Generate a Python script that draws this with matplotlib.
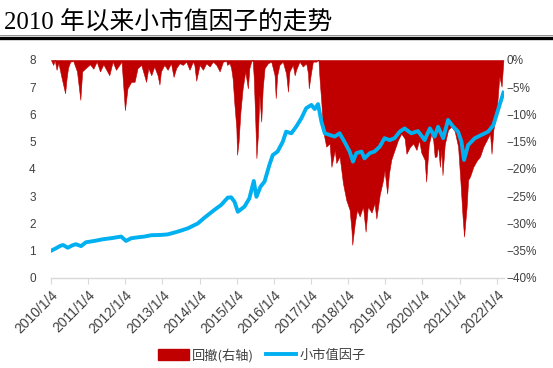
import matplotlib
matplotlib.use("Agg")
import matplotlib.pyplot as plt
from matplotlib.patches import Patch
from matplotlib.lines import Line2D

# -----------------------------
# Data
# -----------------------------
# small-cap factor net value, x in decimal years
line_t = [2010.00, 2010.12, 2010.25, 2010.33, 2010.45, 2010.58, 2010.67, 2010.81, 2010.94,
          2011.17, 2011.39, 2011.62, 2011.89, 2012.02, 2012.16, 2012.38, 2012.51, 2012.70,
          2012.96, 2013.14, 2013.41, 2013.68, 2013.95, 2014.13, 2014.40, 2014.58, 2014.76,
          2014.85, 2014.94, 2015.03, 2015.21, 2015.34, 2015.46, 2015.53, 2015.64, 2015.75,
          2015.88, 2015.97, 2016.10, 2016.24, 2016.33, 2016.47, 2016.60, 2016.74, 2016.87,
          2017.01, 2017.10, 2017.19, 2017.28, 2017.37, 2017.50, 2017.64, 2017.77, 2017.90,
          2018.04, 2018.13, 2018.22, 2018.36, 2018.44, 2018.58, 2018.71, 2018.85, 2018.98,
          2019.12, 2019.25, 2019.39, 2019.52, 2019.70, 2019.88, 2020.06, 2020.20, 2020.33,
          2020.42, 2020.56, 2020.69, 2020.83, 2020.96, 2021.05, 2021.12, 2021.23, 2021.41,
          2021.59, 2021.77, 2021.91, 2022.05, 2022.18]
line_v = [1.00, 1.08, 1.18, 1.21, 1.11, 1.20, 1.24, 1.17, 1.31,
          1.36, 1.42, 1.46, 1.52, 1.36, 1.46, 1.50, 1.52, 1.57,
          1.58, 1.60, 1.70, 1.82, 2.00, 2.21, 2.50, 2.68, 2.95,
          2.96, 2.80, 2.43, 2.62, 2.92, 3.56, 2.98, 3.35, 3.54,
          4.15, 4.51, 4.64, 5.00, 5.37, 5.31, 5.55, 5.86, 6.23,
          6.35, 6.20, 6.38, 5.74, 5.31, 5.25, 5.19, 5.31, 5.00,
          4.64, 4.27, 4.58, 4.64, 4.39, 4.58, 4.64, 4.82, 5.13,
          5.06, 5.13, 5.37, 5.49, 5.31, 5.39, 5.06, 5.49, 5.19,
          5.55, 5.13, 5.80, 5.55, 5.37, 5.00, 4.33, 4.88, 5.13,
          5.25, 5.37, 5.61, 6.23, 6.80]

# drawdown (%), right axis
dd_t = [2010.00, 2010.06, 2010.10, 2010.15, 2010.20, 2010.27, 2010.38, 2010.42, 2010.46,
        2010.52, 2010.60, 2010.70, 2010.79, 2010.84, 2010.93, 2011.05, 2011.14, 2011.23,
        2011.32, 2011.41, 2011.57, 2011.66, 2011.75, 2011.84, 2011.90, 2011.95, 2011.99,
        2012.06, 2012.16, 2012.25, 2012.33, 2012.43, 2012.51, 2012.56, 2012.62, 2012.70,
        2012.78, 2012.87, 2012.92, 2012.96, 2013.05, 2013.14, 2013.23, 2013.30, 2013.37,
        2013.46, 2013.55, 2013.64, 2013.73, 2013.82, 2013.86, 2013.91, 2014.00, 2014.09,
        2014.18, 2014.27, 2014.36, 2014.45, 2014.54, 2014.63, 2014.72, 2014.74, 2014.81,
        2014.85, 2014.89, 2014.94, 2014.99, 2015.01, 2015.05, 2015.10, 2015.16, 2015.23,
        2015.30, 2015.34, 2015.39, 2015.43, 2015.46, 2015.50, 2015.53, 2015.57, 2015.61,
        2015.66, 2015.70, 2015.75, 2015.84, 2015.93, 2016.02, 2016.05, 2016.09, 2016.15,
        2016.24, 2016.33, 2016.38, 2016.42, 2016.51, 2016.56, 2016.60, 2016.69, 2016.78,
        2016.87, 2016.92, 2016.94, 2016.99, 2017.05, 2017.14, 2017.20, 2017.23, 2017.28,
        2017.32, 2017.41, 2017.50, 2017.55, 2017.64, 2017.68, 2017.77, 2017.86, 2017.95,
        2018.04, 2018.09, 2018.11, 2018.18, 2018.24, 2018.31, 2018.40, 2018.47, 2018.53,
        2018.63, 2018.71, 2018.76, 2018.85, 2018.94, 2018.98, 2019.05, 2019.10, 2019.16,
        2019.25, 2019.34, 2019.43, 2019.52, 2019.57, 2019.66, 2019.75, 2019.84, 2019.91,
        2019.97, 2020.06, 2020.10, 2020.17, 2020.24, 2020.29, 2020.33, 2020.38, 2020.42,
        2020.47, 2020.51, 2020.54, 2020.60, 2020.69, 2020.78, 2020.87, 2020.96, 2021.02,
        2021.08, 2021.12, 2021.19, 2021.23, 2021.28, 2021.37, 2021.46, 2021.55, 2021.64,
        2021.73, 2021.82, 2021.86, 2021.91, 2022.00, 2022.07, 2022.13, 2022.18]
dd_v = [0.0, -0.9, 0.0, -1.8, -0.5, -2.8, -6.1, -3.4, -1.4,
        -0.3, -0.2, -2.1, -7.3, -2.1, -1.5, -0.8, -1.6, -0.3,
        -2.1, -0.8, -2.8, -0.3, -1.8, -0.9, -0.3, -5.2, -9.2,
        -5.2, -4.0, -4.0, -1.5, -0.9, -2.8, -4.0, -1.5, -2.8,
        -1.2, -2.8, -4.5, -2.1, -0.9, -1.8, -0.6, -3.1, -1.5,
        -0.6, -0.9, -0.3, -1.8, -0.3, -0.9, -3.8, -0.9, -1.8,
        -0.6, -1.2, -0.3, -0.9, -2.1, -0.3, -0.2, -0.9, -0.6,
        -1.5, -3.4, -8.3, -12.5, -17.4, -15.0, -9.5, -5.2, -2.1,
        -5.2, -1.5, -0.3, 0.0, -3.4, -11.3, -18.0, -13.8, -6.4,
        -11.3, -5.2, -1.5, -0.6, -0.3, -2.8, -7.0, -2.8, -0.9,
        -0.3, -2.5, -5.8, -2.1, -0.9, -2.8, -1.8, -0.3, -1.2,
        -0.6, -2.5, -5.2, -2.8, -0.3, -0.3, 0.0, -3.4, -8.0,
        -12.8, -15.9, -15.3, -19.6, -16.5, -18.9, -17.7, -22.6, -25.7,
        -27.5, -31.2, -33.9, -29.9, -27.5, -28.7, -26.9, -31.5, -26.9,
        -28.0, -26.3, -29.1, -24.7, -22.0, -20.2, -24.5, -20.8, -18.3,
        -16.5, -14.7, -13.5, -14.4, -17.2, -16.0, -15.3, -16.5, -14.7,
        -17.0, -18.3, -22.3, -15.5, -13.5, -14.7, -17.8, -17.7, -15.6,
        -19.6, -16.4, -21.1, -15.5, -12.8, -12.2, -13.1, -15.9, -22.0,
        -28.7, -32.4, -26.9, -22.0, -21.4, -19.6, -18.5, -17.7, -15.9,
        -14.7, -13.5, -17.2, -12.8, -9.2, -3.0, -4.9, 0.0]

years = list(range(2010, 2023))
year_labels = [f"{y}/1/4" for y in years]
pct_ticks = list(range(-40, 1, 5))
pct_labels = [f"{v}%".replace("-", "\u2212") for v in pct_ticks]

# -----------------------------
# Figure
# -----------------------------
RED = "#C00000"
BLUE = "#00B0F0"
TXT = "#404040"

fig = plt.figure(figsize=(5.53, 3.68), dpi=100)
ax = fig.add_axes([0.0922, 0.2446, 0.8188, 0.5924])
ax2 = ax.twinx()

ax2.fill_between(dd_t, dd_v, 0, color=RED, lw=0.4, edgecolor=RED)
ax2.set_ylim(-40, 0)
ax2.set_yticks(pct_ticks)
ax2.set_yticklabels(pct_labels)

ax.plot(line_t, line_v, color=BLUE, lw=2.8, solid_joinstyle="round")
ax.set_ylim(0, 8)
ax.set_yticks(range(0, 9))
ax.set_xlim(2010.0, 2022.19)
ax.set_xticks(years)
ax.set_xticklabels(year_labels, rotation=45, ha="right", rotation_mode="anchor")

# blue line above the red area
ax.set_zorder(ax2.get_zorder() + 1)
ax.patch.set_visible(False)

for a in (ax, ax2):
    for s in a.spines.values():
        s.set_visible(False)
    a.tick_params(labelsize=8.5, colors=TXT, length=0, pad=3)
    for lab in a.get_xticklabels() + a.get_yticklabels():
        lab.set_family(["Liberation Sans", "DejaVu Sans"])
for lab in ax.get_xticklabels():
    lab.set_fontsize(10)
ax.spines["bottom"].set_visible(True)
ax.spines["bottom"].set_color("#D9D9D9")
ax.spines["bottom"].set_linewidth(1.0)
ax.tick_params(axis="x", length=4, color="#D9D9D9", direction="out", pad=3)
ax2.tick_params(axis="y", pad=2)
ax.tick_params(axis="y", pad=11)

# title and rules
fig.text(0.008, 0.938, "2010 年以来小市值因子的走势", fontsize=17.8, color="black",
         family=["Liberation Serif", "Noto Sans CJK SC"], va="center", ha="left")
fig.add_artist(Line2D([0, 1], [0.905, 0.905], color="#808080", lw=0.6))
fig.add_artist(Line2D([0, 1], [0.896, 0.896], color="black", lw=2.4))

# legend
handles = [Patch(facecolor=RED, edgecolor=RED),
           Line2D([0], [0], color=BLUE, lw=2.8)]
leg = fig.legend(handles, ["回撤(右轴)", "小市值因子"], loc="center",
                 bbox_to_anchor=(0.474, 0.035), ncol=2, frameon=False,
                 prop={"family": ["Noto Sans CJK SC"], "size": 9.5},
                 handlelength=2.3, handleheight=0.8, columnspacing=0.9, handletextpad=0.25)
for t in leg.get_texts():
    t.set_color(TXT)

fig.savefig("out.png", dpi=100)
